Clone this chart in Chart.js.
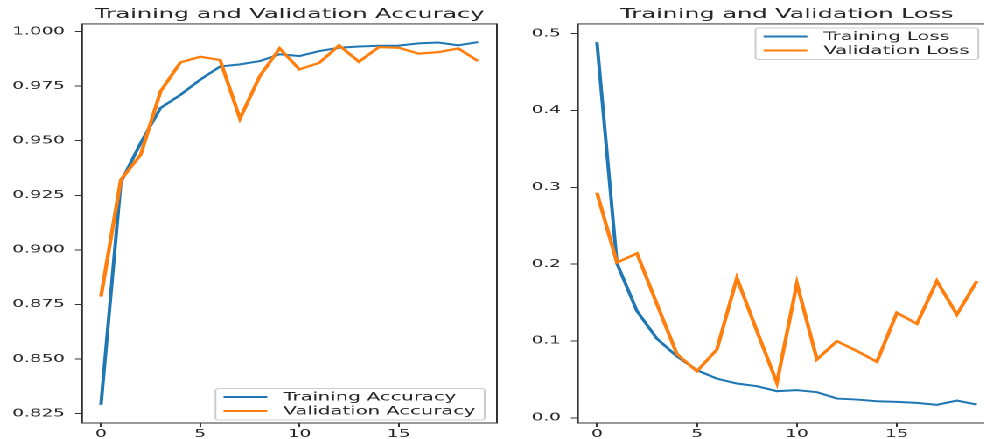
<!DOCTYPE html>
<html><head><meta charset="utf-8">
<script src="https://cdn.jsdelivr.net/npm/chart.js@4/dist/chart.umd.min.js"></script>
<style>
html,body{margin:0;padding:0;background:#fff;overflow:hidden;width:984px;height:439px;}
#stage{position:absolute;left:0;top:0;width:580px;height:439px;transform:scaleX(1.75);transform-origin:0 0;}
#wa{position:absolute;left:0;top:0;width:290px;height:439px;}
#wb{position:absolute;left:290px;top:0;width:290px;height:439px;}
</style></head><body>
<div id="stage"><div id="wa"><canvas id="ca"></canvas></div><div id="wb"><canvas id="cb"></canvas></div></div>
<script>
// ---- data ----
const epochs = [0,1,2,3,4,5,6,7,8,9,10,11,12,13,14,15,16,17,18,19];
const trainAcc = [0.829,0.931,0.949,0.965,0.971,0.978,0.984,0.985,0.9865,0.9896,0.9888,0.9911,0.9926,0.9932,0.9935,0.9936,0.9946,0.9950,0.9937,0.9952];
const valAcc   = [0.8786,0.9321,0.9436,0.9726,0.9859,0.9885,0.987,0.9601,0.9796,0.9923,0.9827,0.9857,0.9937,0.9862,0.9929,0.9926,0.9899,0.9906,0.9923,0.9865];
const trainLoss = [0.489,0.201,0.139,0.103,0.080,0.062,0.051,0.0447,0.0412,0.0347,0.036,0.0334,0.0251,0.0238,0.0216,0.0208,0.0195,0.0169,0.0225,0.0173];
const valLoss   = [0.293,0.202,0.214,0.148,0.083,0.0607,0.089,0.182,0.113,0.0456,0.175,0.076,0.0998,0.087,0.0729,0.1367,0.1224,0.178,0.1345,0.178];
const xTicks = [0,5,10,15];
const accTicks = [0.825,0.850,0.875,0.900,0.925,0.950,0.975,1.000];
const lossTicks = [0.0,0.1,0.2,0.3,0.4,0.5];
const titles = ['Training and Validation Accuracy','Training and Validation Loss'];
const labels = [['Training Accuracy','Validation Accuracy'],['Training Loss','Validation Loss']];

const BLUE = '#1f77b4', ORANGE = '#ff7f0e', INK = '#262626';
const FONT = '"DejaVu Sans", sans-serif';

function pts(vals){ return epochs.map((e,i)=>({x:e,y:vals[i]})); }
function range(a,b){ const all=a.concat(b); const lo=Math.min(...all), hi=Math.max(...all); const m=(hi-lo)*0.05; return [lo-m,hi+m]; }
const xr = [epochs[0]-(epochs[epochs.length-1]-epochs[0])*0.05, epochs[epochs.length-1]+(epochs[epochs.length-1]-epochs[0])*0.05];

const mplPlugin = {
  id: 'mpl',
  afterDraw(chart, args, opts){
    const ctx = chart.ctx, a = chart.chartArea;
    ctx.save();
    ctx.strokeStyle = '#333'; ctx.lineWidth = 1;
    ctx.strokeRect(a.left, a.top, a.right-a.left, a.bottom-a.top);
    const L = opts.legend;
    ctx.font = '11.2px ' + FONT;
    const ds = chart.data.datasets;
    const tw = Math.max(...ds.map(d=>ctx.measureText(d.label).width));
    const w = 4.6 + 25 + 9.2 + tw + 5.2, h = 31.5;
    const x = a.right - L.right - w;
    const y = L.anchor === 'bottom' ? a.bottom - L.offset - h : a.top + L.offset;
    ctx.beginPath();
    if (ctx.roundRect) ctx.roundRect(x,y,w,h,2); else ctx.rect(x,y,w,h);
    ctx.fillStyle = 'rgba(255,255,255,0.8)'; ctx.fill();
    ctx.strokeStyle = '#cccccc'; ctx.lineWidth = 1; ctx.stroke();
    ds.forEach((d,i)=>{
      const ry = y + 8.5 + i*14;
      ctx.beginPath(); ctx.moveTo(x+4.6, ry); ctx.lineTo(x+29.6, ry);
      ctx.strokeStyle = d.borderColor; ctx.lineWidth = 2; ctx.stroke();
      ctx.fillStyle = INK; ctx.textBaseline = 'middle'; ctx.textAlign = 'left';
      ctx.fillText(d.label, x+38.8, ry+0.5);
    });
    ctx.restore();
  }
};

function make(id, title, labs, tr, va, yTicks, dec, yAxisW, padRight, legend){
  const yr = range(tr, va);
  return new Chart(document.getElementById(id), {
    type: 'line',
    data: { datasets: [
      { label: labs[0], data: pts(tr), borderColor: BLUE, borderWidth: 2, pointRadius: 0, tension: 0, fill: false, order: 1 },
      { label: labs[1], data: pts(va), borderColor: ORANGE, borderWidth: 2.2, pointRadius: 0, tension: 0, fill: false, order: 0 }
    ]},
    plugins: [mplPlugin],
    options: {
      responsive: true, maintainAspectRatio: false, animation: false, devicePixelRatio: 2,
      layout: { padding: { left: 0, right: padRight, top: 0, bottom: 0 } },
      plugins: {
        legend: { display: false }, tooltip: { enabled: false },
        title: { display: true, text: title, fullSize: false, color: INK,
                 font: { family: FONT, size: 13.7, weight: 'normal' }, padding: { top: 6.3, bottom: 1.2 } },
        mpl: { legend: legend }
      },
      scales: {
        x: { type: 'linear', min: xr[0], max: xr[1],
             afterBuildTicks: s => { s.ticks = xTicks.map(v=>({value:v})); },
             afterFit: s => { s.height = 16; },
             ticks: { color: INK, font: { family: FONT, size: 10.5 }, padding: 1, maxRotation: 0, callback: v => String(v) },
             grid: { display: true, drawOnChartArea: false, drawTicks: true, tickLength: 4, color: '#333', lineWidth: 1 },
             border: { display: false } },
        y: { type: 'linear', min: yr[0], max: yr[1],
             afterBuildTicks: s => { s.ticks = yTicks.map(v=>({value:v})); },
             afterFit: s => { s.width = yAxisW; },
             ticks: { color: INK, font: { family: FONT, size: 10.5 }, padding: 5.8, callback: v => Number(v).toFixed(dec) },
             grid: { display: true, drawOnChartArea: false, drawTicks: true, tickLength: 4, color: '#333', lineWidth: 1 },
             border: { display: false } }
      }
    }
  });
}

make('ca', titles[0], labels[0], trainAcc, valAcc, accTicks, 3, 46.9, 6, { anchor: 'bottom', right: 7, offset: 3 });
make('cb', titles[1], labels[1], trainLoss, valLoss, lossTicks, 1, 40.3, 10.9, { anchor: 'top', right: 10, offset: 4 });
</script>
</body></html>
